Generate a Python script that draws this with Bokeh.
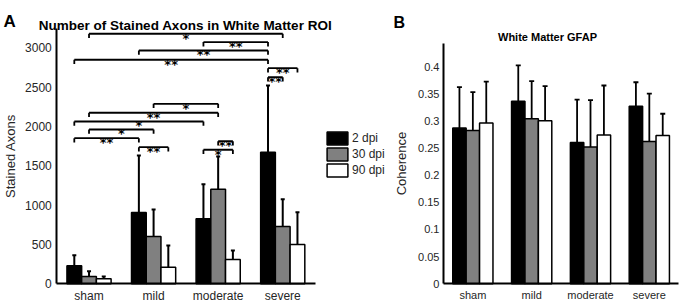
from bokeh.plotting import figure
from bokeh.models import (Range1d, Whisker, ColumnDataSource, Legend,
                          LegendItem, Label, FixedTicker, NumeralTickFormatter, TeeHead)
from bokeh.transform import dodge
from bokeh.layouts import row
from bokeh.embed import file_html
from bokeh.resources import INLINE
from bokeh.core.properties import value

# ---------------- data ----------------
categories = ["sham", "mild", "moderate", "severe"]
category_pos = [1, 2, 3, 4]
series_labels = ["2 dpi", "30 dpi", "90 dpi"]

# Panel A: number of stained axons (mean, one-sided SD)
axons_2dpi = [229, 907, 827, 1675]
axons_2dpi_sd = [135, 725, 440, 848]
axons_30dpi = [93, 602, 1203, 729]
axons_30dpi_sd = [67, 343, 417, 347]
axons_90dpi = [64, 211, 309, 500]
axons_90dpi_sd = [29, 276, 115, 411]
axons_ticks = [0, 500, 1000, 1500, 2000, 2500, 3000]

# significance brackets of panel A (group index, dpi index)
bracket_from_group = [0, 2, 1, 0, 3, 3, 1, 0, 0, 0, 0, 1, 2, 2]
bracket_from_dpi   = [1, 0, 0, 0, 0, 0, 1, 1, 0, 1, 0, 0, 1, 0]
bracket_to_group   = [3, 3, 3, 3, 3, 3, 2, 2, 2, 1, 1, 1, 2, 2]
bracket_to_dpi     = [1, 0, 0, 0, 2, 1, 1, 1, 0, 1, 0, 2, 2, 2]
bracket_height     = [3181, 3075, 2968, 2850, 2743, 2628, 2290, 2176, 2065, 1963, 1852, 1738, 1814, 1705]
bracket_label      = ["*", "**", "**", "**", "**", "**", "*", "**", "*", "*", "**", "**", "**", "*"]

# Panel B: white matter GFAP coherence (mean, SD)
coh_2dpi = [0.287, 0.336, 0.260, 0.327]
coh_2dpi_sd = [0.075, 0.066, 0.079, 0.044]
coh_30dpi = [0.282, 0.304, 0.252, 0.262]
coh_30dpi_sd = [0.071, 0.069, 0.086, 0.088]
coh_90dpi = [0.296, 0.300, 0.274, 0.273]
coh_90dpi_sd = [0.076, 0.064, 0.091, 0.040]
coh_ticks = [0, 0.05, 0.1, 0.15, 0.2, 0.25, 0.3, 0.35, 0.4]

# ---------------- style ----------------
FONT = "Liberation Sans"
TXT = "#262626"
fills = ["#000000", "#808080", "#ffffff"]
offsets = [-0.228, 0.0, 0.228]
BAR_W = 0.228


def style(p, xb, yb, x_fix, y_fix):
    p.xgrid.visible = False
    p.ygrid.visible = False
    p.outline_line_color = None
    p.background_fill_color = "white"
    p.border_fill_color = "white"
    p.xaxis.ticker = FixedTicker(ticks=category_pos)
    p.xaxis.major_label_overrides = {pos: c for pos, c in zip(category_pos, categories)}
    p.xaxis.bounds = xb
    p.yaxis.bounds = yb
    p.xaxis.fixed_location = x_fix
    p.yaxis.fixed_location = y_fix
    for ax in p.axis:
        ax.major_tick_in = 0
        ax.major_tick_out = 0
        ax.minor_tick_line_color = None
        ax.axis_line_width = 2
        ax.axis_line_color = "black"
        ax.major_label_text_font = FONT
        ax.major_label_text_color = TXT
        ax.axis_label_text_font = FONT
        ax.axis_label_text_color = TXT
        ax.axis_label_text_font_style = "normal"


def bars(p, means, sds, both_sides, cap, lw):
    rends = []
    for k in range(3):
        m = means[k]
        s = sds[k]
        src = ColumnDataSource(dict(pos=category_pos, mean=m,
                                    upper=[a + b for a, b in zip(m, s)],
                                    lower=[a - b for a, b in zip(m, s)]))
        r = p.vbar(x=dodge("pos", offsets[k]), top="mean", bottom=0,
                   width=BAR_W, source=src, fill_color=fills[k],
                   line_color="black", line_width=1.5)
        rends.append(r)
        w = Whisker(base=dodge("pos", offsets[k]),
                    upper="upper", lower="mean" if not both_sides else "lower",
                    source=src, dimension="height", line_width=lw, line_color="black",
                    upper_head=TeeHead(size=cap, line_width=lw, line_color="black"),
                    lower_head=(TeeHead(size=cap, line_width=lw, line_color="black")
                                if both_sides else None))
        p.add_layout(w)
    return rends


# ---------------- panel A ----------------
pA = figure(x_range=Range1d(-0.371, 5.669), y_range=Range1d(-301.5, 3604),
            width=390, height=307, output_backend="svg", toolbar_location=None,
            title=None, min_border=0)
style(pA, (0.5, 4.5), (0, 3250), 0, 0.5)
rA = bars(pA, [axons_2dpi, axons_30dpi, axons_90dpi],
          [axons_2dpi_sd, axons_30dpi_sd, axons_90dpi_sd], False, 4, 2)

bx0 = [g + 1 + offsets[d] for g, d in zip(bracket_from_group, bracket_from_dpi)]
bx1 = [g + 1 + offsets[d] for g, d in zip(bracket_to_group, bracket_to_dpi)]
TICK = 55
STAR_DROP = 55
bsrc = ColumnDataSource(dict(x0=bx0, x1=bx1, y=bracket_height,
                             yt=[h - TICK for h in bracket_height],
                             ys=[h - STAR_DROP for h in bracket_height],
                             xc=[(a + b) / 2 for a, b in zip(bx0, bx1)],
                             lab=bracket_label))
pA.segment(x0="x0", y0="y", x1="x1", y1="y", source=bsrc, line_color="black", line_width=1.8)
pA.segment(x0="x0", y0="y", x1="x0", y1="yt", source=bsrc, line_color="black", line_width=1.8)
pA.segment(x0="x1", y0="y", x1="x1", y1="yt", source=bsrc, line_color="black", line_width=1.8)
pA.text(x="xc", y="ys", text="lab", source=bsrc, text_align="center",
        text_baseline="alphabetic", text_font=value("DejaVu Sans"), text_font_style="bold",
        text_font_size="13px", text_color="black")

pA.yaxis.ticker = FixedTicker(ticks=axons_ticks)
pA.yaxis.axis_label = "Stained Axons"
pA.yaxis.axis_label_text_font_size = "13px"
pA.yaxis.axis_label_standoff = 4
pA.yaxis.major_label_standoff = 5
pA.yaxis.major_label_text_font_size = "12px"
pA.xaxis.major_label_text_font_size = "12px"
pA.xaxis.major_label_standoff = 5

legA = Legend(items=[LegendItem(label=series_labels[k], renderers=[rA[k]]) for k in range(3)],
              location=(324, 129), orientation="vertical", padding=0, margin=0, spacing=0,
              glyph_width=26, glyph_height=16, label_height=16, label_standoff=2,
              label_text_font=FONT, label_text_font_size="12px", label_text_color=TXT,
              border_line_color=None, background_fill_alpha=0)
pA.add_layout(legA)

pA.add_layout(Label(x=185, y=282, x_units="screen", y_units="screen",
                    text="Number of Stained Axons in White Matter ROI", text_align="center",
                    text_baseline="alphabetic", text_font=FONT, text_font_style="bold",
                    text_font_size="13.5px", text_color="black"))
pA.add_layout(Label(x=3, y=286, x_units="screen", y_units="screen", text="A",
                    text_align="left", text_baseline="alphabetic", text_font=FONT,
                    text_font_style="bold", text_font_size="17px", text_color="black"))

# ---------------- panel B ----------------
pB = figure(x_range=Range1d(-0.4, 4.581), y_range=Range1d(-0.0436, 0.5215),
            width=293, height=307, output_backend="svg", toolbar_location=None,
            title=None, min_border=0)
style(pB, (0.5, 4.5), (0, 0.442), 0, 0.5)
bars(pB, [coh_2dpi, coh_30dpi, coh_90dpi], [coh_2dpi_sd, coh_30dpi_sd, coh_90dpi_sd], True, 5, 1.8)
pB.yaxis.ticker = FixedTicker(ticks=coh_ticks)
pB.yaxis.formatter = NumeralTickFormatter(format="0.[00]")
pB.yaxis.axis_label = "Coherence"
pB.yaxis.axis_label_text_font_size = "13px"
pB.yaxis.axis_label_standoff = 6
pB.yaxis.major_label_standoff = 4
pB.yaxis.major_label_text_font_size = "11px"
pB.xaxis.major_label_text_font_size = "11px"
pB.xaxis.major_label_standoff = 5

pB.add_layout(Label(x=157, y=270.5, x_units="screen", y_units="screen",
                    text="White Matter GFAP", text_align="center",
                    text_baseline="alphabetic", text_font=FONT, text_font_style="bold",
                    text_font_size="11px", text_color="black"))
pB.add_layout(Label(x=3, y=285.5, x_units="screen", y_units="screen", text="B",
                    text_align="left", text_baseline="alphabetic", text_font=FONT,
                    text_font_style="bold", text_font_size="16px", text_color="black"))

layout = row(pA, pB)
open("out.html", "w").write(file_html(layout, INLINE))
